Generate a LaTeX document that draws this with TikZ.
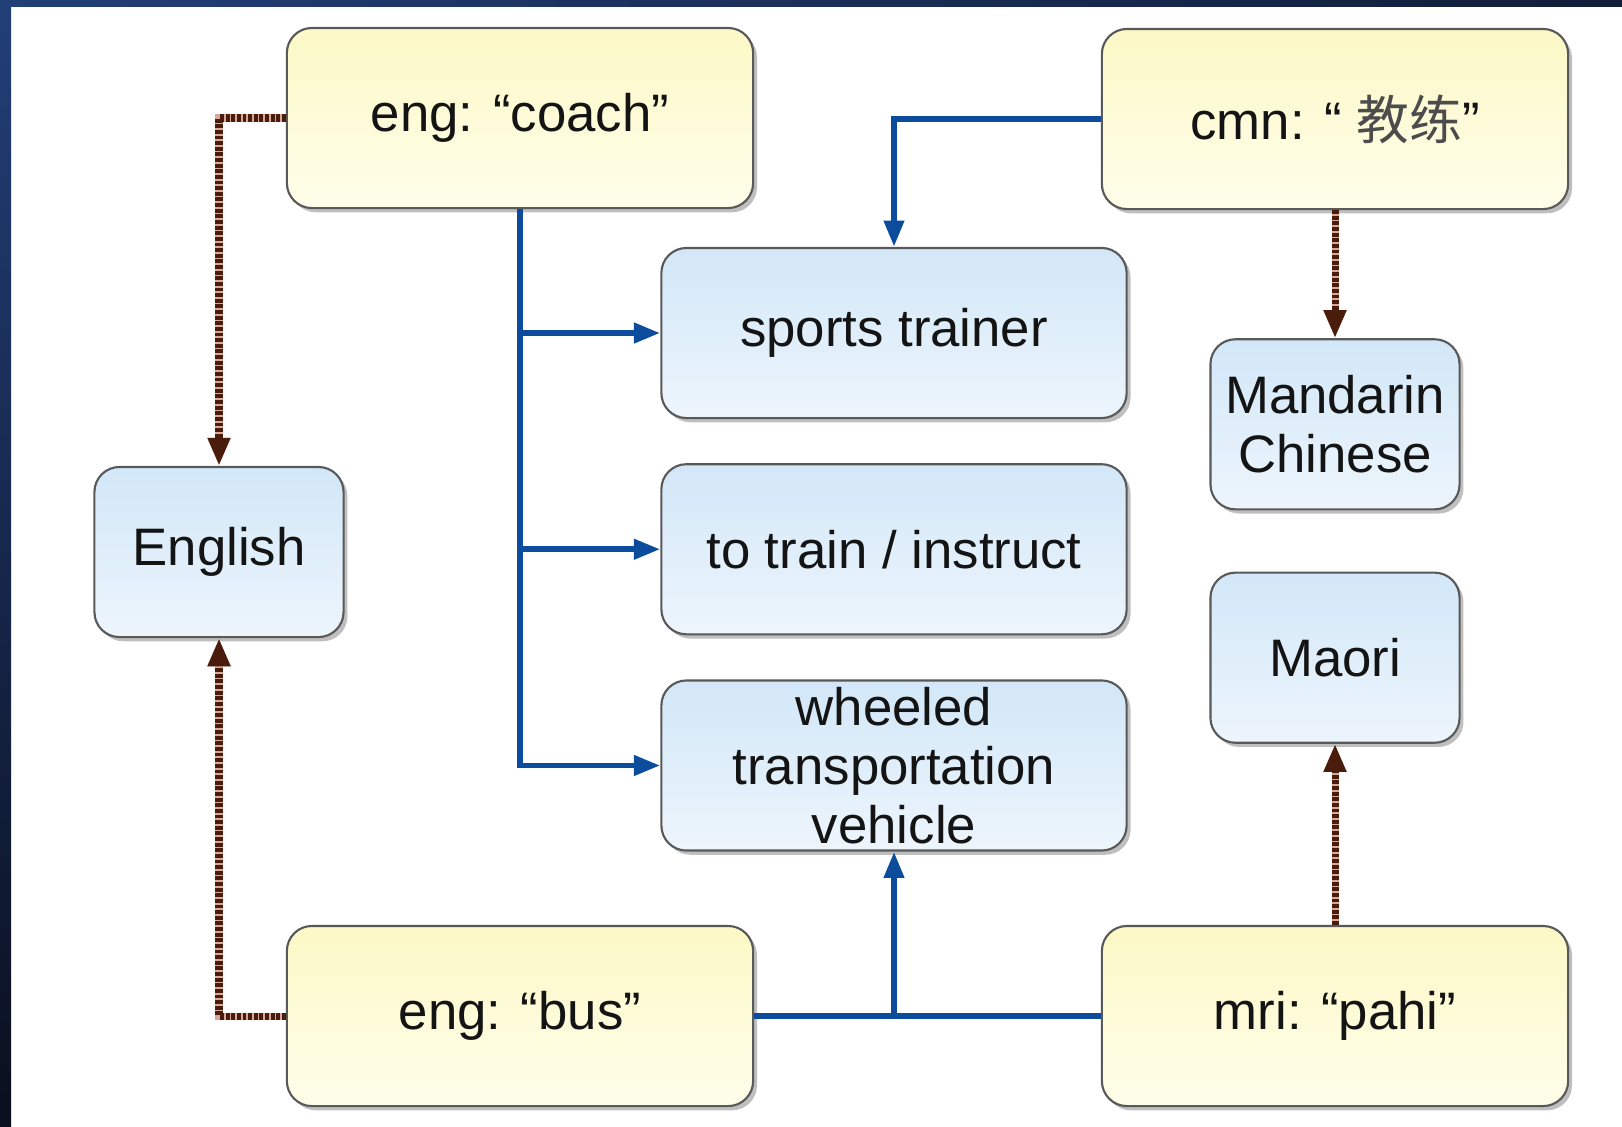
\documentclass[tikz,border=0pt]{standalone}
\usepackage{fontspec}
\setmainfont{Liberation Sans}
\newfontfamily\cjk{Noto Sans CJK SC}
\usetikzlibrary{arrows.meta,positioning,shadows}
\definecolor{glosstop}{HTML}{FCF8C6}
\definecolor{glossbot}{HTML}{FEFEEA}
\definecolor{sensetop}{HTML}{D2E7F8}
\definecolor{sensebot}{HTML}{EDF5FC}
\definecolor{linkblue}{HTML}{0B4C9C}
\definecolor{linkbrown}{HTML}{4A1C0C}
\definecolor{linkpink}{HTML}{D9A79C}
\definecolor{frametop}{HTML}{223F78}
\definecolor{framebot}{HTML}{0A0F1E}

\begin{document}
\begin{tikzpicture}[x=0.01cm, y=-0.01cm, node distance=0.44cm,
  every node/.style={font=\fontsize{15}{16.8}\selectfont, text=black!92, align=center},
  box/.style={rectangle, rounded corners=0.25cm, draw=black!65, line width=0.6pt, inner sep=1pt,
    drop shadow={shadow xshift=1.1pt, shadow yshift=-1.2pt, opacity=0.5}},
  termbox/.style={box, top color=glosstop, bottom color=glossbot, minimum width=4.66cm, minimum height=1.8cm},
  sensebox/.style={box, top color=sensetop, bottom color=sensebot, minimum width=4.65cm, minimum height=1.7cm},
  langbox/.style={sensebox, minimum width=2.49cm},
  senselink/.style={draw=linkblue, line width=1.7pt},
  sensearrow/.style={senselink, -{Triangle[length=7.5pt, width=5.5pt]}},
  langarrow/.style={draw=linkbrown, line width=2pt, dash pattern=on 1.1pt off 0.5pt,
    preaction={draw=linkpink, line width=2pt}, -{Triangle[length=8pt, width=6pt]}}]
\useasboundingbox (0,0) rectangle (1622,1126);
\fill[white] (0,0) rectangle (1622,1126);
\shade[top color=frametop, bottom color=framebot] (0,0) rectangle (11,1126);
\shade[left color=frametop, right color=framebot!70!frametop] (0,0) rectangle (1622,6);

\node[termbox] (coach) at (520,118) {eng: “coach”};
\node[termbox] (cmn) at (1335,119) {cmn: “ {\cjk\color{black!70}教练}”};
\node[sensebox] (sports) at (894,333) {sports trainer};
\node[sensebox, below=of sports] (train) {to train / instruct};
\node[sensebox, below=of train] (wheeled) {wheeled\\transportation\\vehicle};
\node[langbox, below=1.28cm of cmn] (mandarin) {Mandarin\\Chinese};
\node[langbox] (english) at (219,552) {English};
\node[termbox] (bus) at (520,1016) {eng: “bus”};
\node[termbox] (pahi) at (1335,1016) {mri: “pahi”};
\node[langbox, above=1.81cm of pahi] (maori) {Maori};

\draw[sensearrow] (coach.south) |- (wheeled.west);
\foreach \sense in {sports, train}
  \draw[sensearrow] (coach.south |- \sense.west) -- (\sense.west);
\draw[sensearrow] (cmn.west) -| (sports.north);
\draw[senselink] (bus.east) -- (pahi.west);
\draw[sensearrow] (bus.east -| wheeled.south) -- (wheeled.south);
\draw[langarrow] (coach.west) -| (english.north);
\draw[langarrow] (bus.west) -| (english.south);
\draw[langarrow] (cmn.south) -- (mandarin.north);
\draw[langarrow] (pahi.north) -- (maori.south);
\end{tikzpicture}
\end{document}
